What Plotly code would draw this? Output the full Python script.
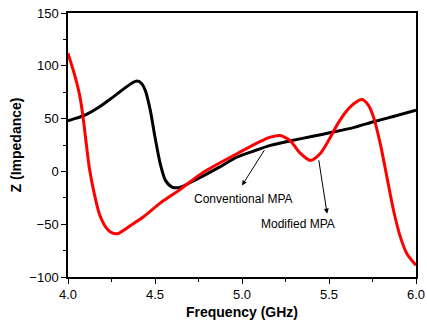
import plotly.graph_objects as go

# Conventional MPA (black)
conv_x = [4.0, 4.094, 4.17, 4.247, 4.362, 4.397, 4.424, 4.444, 4.473, 4.50, 4.53, 4.56,
          4.598, 4.636, 4.674, 4.72, 4.78, 4.87, 4.97, 5.07, 5.163, 5.28, 5.4, 5.517, 5.64,
          5.756, 5.88, 6.0]
conv_y = [48, 53, 60, 69, 83, 85.5, 83, 76.7, 57.8, 32.5, 7.3, -8.5,
          -14.8, -15.4, -13, -9, -4, 4, 13.5, 19.5, 24.6, 29, 33, 37, 41.5,
          47, 52.5, 58]

# Modified MPA (red)
mod_x = [4.0, 4.036, 4.065, 4.084, 4.103, 4.122, 4.151, 4.18, 4.218, 4.25, 4.285, 4.362,
         4.434, 4.53, 4.645, 4.78, 4.97, 5.10, 5.163, 5.22, 5.278, 5.33, 5.393, 5.45, 5.50,
         5.55, 5.60, 5.65, 5.69, 5.725, 5.756, 5.795, 5.833, 5.871, 5.91, 5.948, 6.0]
mod_y = [112, 92.5, 73.6, 54.6, 29, 4, -21, -40, -53, -58, -59, -51,
         -43, -30, -17, -0.6, 16.7, 28, 32.5, 34, 29, 18, 10.4, 17, 30,
         45, 57, 65, 68, 63, 51.4, 26, -5.4, -37, -62, -78, -89]

x_ticks = [4.0, 4.5, 5.0, 5.5, 6.0]
x_labels = ["4.0", "4.5", "5.0", "5.5", "6.0"]
y_ticks = [-100, -50, 0, 50, 100, 150]

FONT = "Arial, Liberation Sans, sans-serif"

fig = go.Figure()
fig.add_trace(go.Scatter(x=conv_x, y=conv_y, mode="lines",
                         line=dict(color="black", width=3, shape="spline", smoothing=0.7),
                         showlegend=False))
fig.add_trace(go.Scatter(x=mod_x, y=mod_y, mode="lines",
                         line=dict(color="#ff0000", width=3, shape="spline", smoothing=0.7),
                         showlegend=False))

axis_common = dict(showline=True, linecolor="black", linewidth=1.5, mirror=True,
                   ticks="outside", ticklen=5, tickwidth=1.2, tickcolor="black",
                   showgrid=False, zeroline=False, automargin=False,
                   tickfont=dict(family=FONT, size=13, color="black"))

fig.update_xaxes(range=[4.0, 6.0], tickvals=x_ticks, ticktext=x_labels,
                 minor=dict(ticks="outside", ticklen=3, tickwidth=1.2, tickcolor="black", dtick=0.25),
                 title=dict(text="<b>Frequency (GHz)</b>", font=dict(family=FONT, size=14, color="black"),
                            standoff=6),
                 **axis_common)
fig.update_yaxes(range=[-100, 150], tickvals=y_ticks,
                 minor=dict(ticks="outside", ticklen=3, tickwidth=1.2, tickcolor="black", dtick=25),
                 title=dict(text="<b>Z (Impedance)</b>", font=dict(family=FONT, size=14, color="black"),
                            standoff=4),
                 **axis_common)

# arrows
fig.add_annotation(x=5.0, y=-13.3, ax=5.134, ay=21.5, axref="x", ayref="y", xref="x", yref="y",
                   text="", showarrow=True, arrowhead=2, arrowsize=1, arrowwidth=1, arrowcolor="black")
fig.add_annotation(x=5.489, y=-40, ax=5.44, ay=12, axref="x", ayref="y", xref="x", yref="y",
                   text="", showarrow=True, arrowhead=2, arrowsize=1, arrowwidth=1, arrowcolor="black")
fig.add_annotation(x=5.008, y=-26.5, text="Conventional MPA", showarrow=False,
                   font=dict(family=FONT, size=12, color="black"))
fig.add_annotation(x=5.32, y=-50, text="Modified MPA", showarrow=False,
                   font=dict(family=FONT, size=12, color="black"))

fig.update_layout(width=427, height=327, margin=dict(l=68, r=11, t=13, b=50, autoexpand=False),
                  plot_bgcolor="white", paper_bgcolor="white")

fig.write_html("out.html")
